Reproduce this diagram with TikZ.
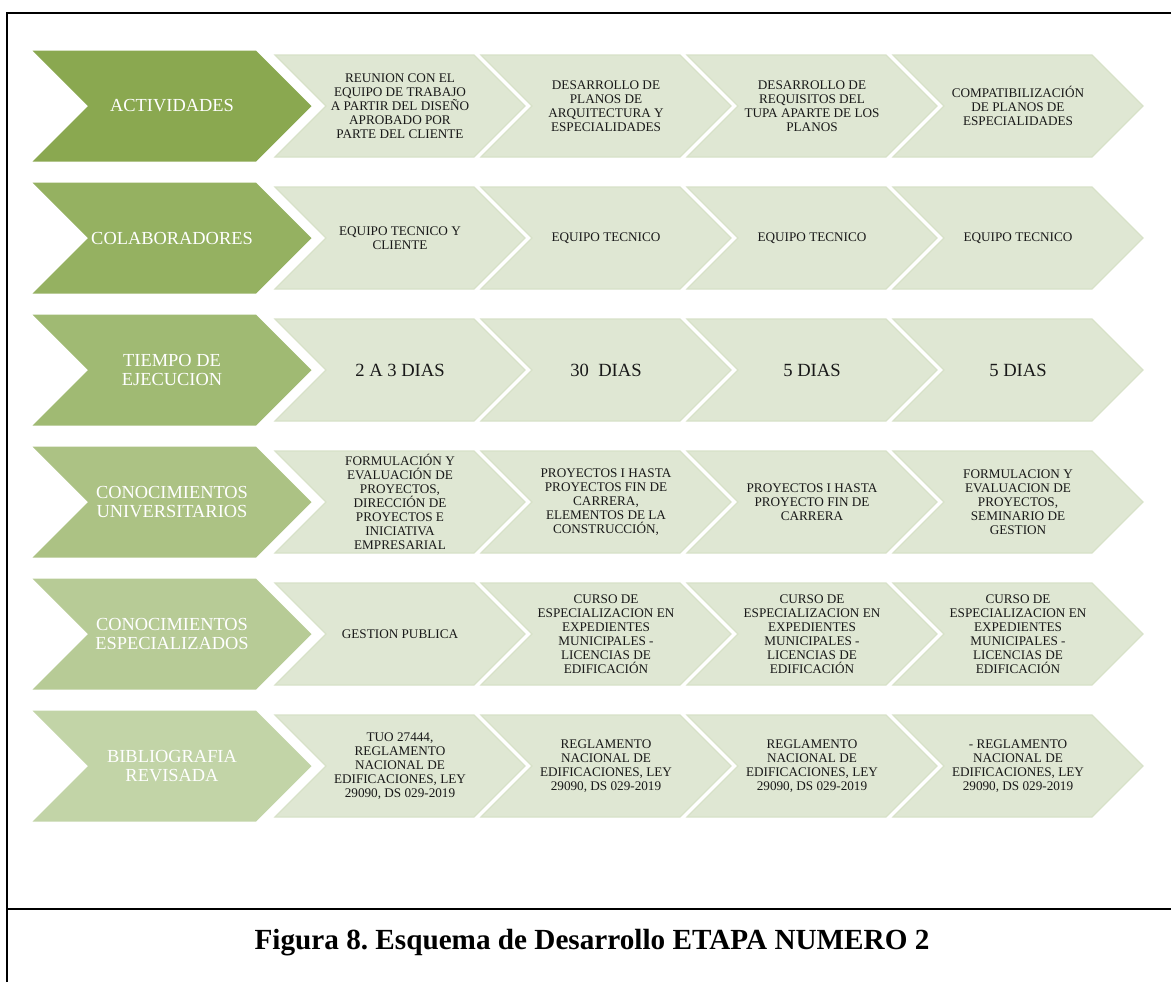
\documentclass[tikz,border=0pt]{standalone}
\usepackage{fontspec}
\setmainfont{Liberation Serif}
\usetikzlibrary{shapes.symbols, positioning}

\definecolor{headA}{RGB}{138,168,80}
\definecolor{headF}{RGB}{194,212,167}
\definecolor{itemfill}{RGB}{223,231,211}
\definecolor{itemedge}{RGB}{215,225,200}

\begin{document}
\frenchspacing
\begin{tikzpicture}[
      x=0.5pt, y=-0.5pt,
      every node/.style={align=center, outer sep=0pt},
      band/.style={signal, signal from=west, signal to=east, signal pointer angle=90, inner sep=1pt},
      head/.style={band, fill=#1, text=white, minimum width=139.5pt, minimum height=55.5pt,
        font=\fontsize{9.2}{9.6}\selectfont},
      item/.style={band, fill=itemfill, draw=itemedge, line width=.6pt, minimum width=125pt,
        minimum height=51pt, text=black!90, font=\fontsize{6.6}{7}\selectfont},
      days/.style={item, font=\fontsize{9.3}{10}\selectfont},
      frame/.style={line width=1.3pt}
    ]
    \useasboundingbox (0,0) rectangle (1171,982);

    % left column
    \node[head=headA] (act) at (172,106) {ACTIVIDADES};
    \node[head=headF!20!headA] (col) at (172,238) {COLABORADORES};
    \node[head=headF!40!headA] (tie) at (172,370) {TIEMPO DE\\EJECUCION};
    \node[head=headF!60!headA] (cun) at (172,502) {CONOCIMIENTOS\\UNIVERSITARIOS};
    \node[head=headF!80!headA] (ces) at (172,634) {CONOCIMIENTOS\\ESPECIALIZADOS};
    \node[head=headF] (bib) at (172,766) {BIBLIOGRAFIA\\REVISADA};

    % rows
    \foreach \txt [count=\j] in {
        {REUNION CON EL\\EQUIPO DE TRABAJO\\A PARTIR DEL DISEÑO\\APROBADO POR\\PARTE DEL CLIENTE},
        {DESARROLLO DE\\PLANOS DE\\ARQUITECTURA Y\\ESPECIALIDADES},
        {DESARROLLO DE\\REQUISITOS DEL\\TUPA APARTE DE LOS\\PLANOS},
        {COMPATIBILIZACIÓN\\DE PLANOS DE\\ESPECIALIDADES}}
      \node[item] (act-\j) at ({194+206*\j},106) {\txt};
    \foreach \txt [count=\j] in {
        {EQUIPO TECNICO Y\\CLIENTE}, {EQUIPO TECNICO}, {EQUIPO TECNICO}, {EQUIPO TECNICO}}
      \node[item] (col-\j) at ({194+206*\j},238) {\txt};
    \foreach \txt [count=\j] in {{2 A 3 DIAS}, {30\ \ DIAS}, {5 DIAS}, {5 DIAS}}
      \node[days] (tie-\j) at ({194+206*\j},370) {\txt};
    \foreach \txt [count=\j] in {
        {FORMULACIÓN Y\\EVALUACIÓN DE\\PROYECTOS,\\DIRECCIÓN DE\\PROYECTOS E\\INICIATIVA\\EMPRESARIAL},
        {PROYECTOS I HASTA\\PROYECTOS FIN DE\\CARRERA,\\ELEMENTOS DE LA\\CONSTRUCCIÓN,},
        {PROYECTOS I HASTA\\PROYECTO FIN DE\\CARRERA},
        {FORMULACION Y\\EVALUACION DE\\PROYECTOS,\\SEMINARIO DE\\GESTION}}
      \node[item] (cun-\j) at ({194+206*\j},502) {\txt};
    \foreach \txt [count=\j] in {
        {GESTION PUBLICA},
        {CURSO DE\\ESPECIALIZACION EN\\EXPEDIENTES\\MUNICIPALES -\\LICENCIAS DE\\EDIFICACIÓN},
        {CURSO DE\\ESPECIALIZACION EN\\EXPEDIENTES\\MUNICIPALES -\\LICENCIAS DE\\EDIFICACIÓN},
        {CURSO DE\\ESPECIALIZACION EN\\EXPEDIENTES\\MUNICIPALES -\\LICENCIAS DE\\EDIFICACIÓN}}
      \node[item] (ces-\j) at ({194+206*\j},634) {\txt};
    \foreach \txt [count=\j] in {
        {TUO 27444,\\REGLAMENTO\\NACIONAL DE\\EDIFICACIONES, LEY\\29090, DS 029-2019},
        {REGLAMENTO\\NACIONAL DE\\EDIFICACIONES, LEY\\29090, DS 029-2019},
        {REGLAMENTO\\NACIONAL DE\\EDIFICACIONES, LEY\\29090, DS 029-2019},
        {- REGLAMENTO\\NACIONAL DE\\EDIFICACIONES, LEY\\29090, DS 029-2019}}
      \node[item] (bib-\j) at ({194+206*\j},766) {\txt};

    % frame and caption
    \draw[frame] (7,982) -- (7,13) -- (1171,13);
    \draw[frame] (7,909) -- (1171,909);
    \node[font=\bfseries\fontsize{14.6}{16}\selectfont] (cap) at (592,943)
      {Figura 8. Esquema de Desarrollo ETAPA NUMERO 2};
\end{tikzpicture}
\end{document}
